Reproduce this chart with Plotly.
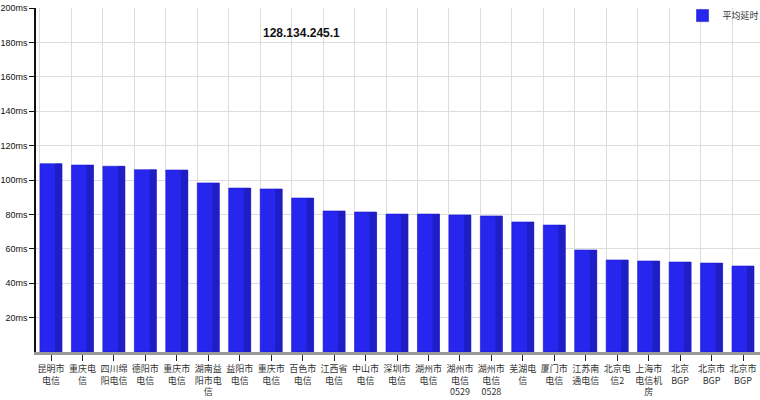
import plotly.graph_objects as go

categories = ["昆明市电信", "重庆电信", "四川绵阳电信", "德阳市电信", "重庆市电信",
              "湖南益阳市电信", "益阳市电信", "重庆市电信", "百色市电信", "江西省电信",
              "中山市电信", "深圳市电信", "湖州市电信", "湖州市电信0529", "湖州市电信0528",
              "芜湖电信", "厦门市电信", "江苏南通电信", "北京电信2", "上海市电信机房",
              "北京BGP", "北京市BGP", "北京市BGP"]
tick_labels = ["昆明市<br>电信", "重庆电<br>信", "四川绵<br>阳电信", "德阳市<br>电信", "重庆市<br>电信",
               "湖南益<br>阳市电<br>信", "益阳市<br>电信", "重庆市<br>电信", "百色市<br>电信", "江西省<br>电信",
               "中山市<br>电信", "深圳市<br>电信", "湖州市<br>电信", "湖州市<br>电信<br>0529", "湖州市<br>电信<br>0528",
               "芜湖电<br>信", "厦门市<br>电信", "江苏南<br>通电信", "北京电<br>信2", "上海市<br>电信机<br>房",
               "北京<br>BGP", "北京市<br>BGP", "北京市<br>BGP"]
avg_latency = [109.5, 108.7, 108.0, 106.0, 105.8, 98.3, 95.3, 94.8, 89.5, 82.0,
               81.4, 80.2, 80.2, 79.7, 79.1, 75.6, 73.8, 59.3, 53.5, 52.9,
               52.3, 51.7, 50.0]
y_ticks = [20, 40, 60, 80, 100, 120, 140, 160, 180, 200]
y_tick_labels = [f"{v}ms" for v in y_ticks]
title_text = "128.134.245.1"
series_name = "平均延时"

x_idx = list(range(len(categories)))

fig = go.Figure()
fig.add_trace(go.Bar(
    x=x_idx, y=avg_latency, name=series_name, width=0.7,
    marker=dict(color="#2626EE", line=dict(color="#1C1CD0", width=0.6)),
    hovertext=categories,
))
fig.add_trace(go.Bar(
    x=x_idx, y=avg_latency, width=0.22, offset=0.13, showlegend=False,
    marker=dict(color="#1E1EC4", line=dict(width=0)), hoverinfo="skip",
))

fig.add_annotation(
    text="<b>" + title_text + "</b>", x=0.367, y=0.927, xref="paper", yref="paper",
    showarrow=False, font=dict(family="Liberation Sans", size=12, color="#111111"),
    xanchor="center", yanchor="middle",
)

fig.update_layout(
    width=760, height=400,
    margin=dict(l=36, r=0, t=8, b=48, autoexpand=False),
    paper_bgcolor="white", plot_bgcolor="white",
    barmode="overlay",
    showlegend=True,
    legend=dict(x=0.893, y=1.02, xanchor="left", yanchor="top", itemwidth=30,
                bgcolor="rgba(0,0,0,0)", font=dict(family="Noto Sans CJK SC", size=9, color="#333")),
    font=dict(family="Liberation Sans", size=9, color="#222"),
)
fig.update_xaxes(
    range=[-0.477, 22.54], tickmode="array", tickvals=x_idx, ticktext=tick_labels,
    tickangle=0, ticks="outside", ticklen=6, tickcolor="#222", automargin=False,
    tickfont=dict(family="Noto Sans CJK SC", size=9, color="#333"),
    showgrid=False, showline=True, linecolor="#999999", linewidth=3,
    minor=dict(tick0=-0.35, dtick=1, showgrid=True, gridcolor="#DDDDDD", gridwidth=1, ticklen=0),
    zeroline=False, fixedrange=True,
)
fig.update_yaxes(
    range=[0, 200], tickmode="array", tickvals=y_ticks, ticktext=y_tick_labels,
    ticks="outside", ticklen=5, tickcolor="#111", showline=True, linecolor="#111", linewidth=1.5,
    showgrid=True, gridcolor="#DDDDDD", gridwidth=1, zeroline=False, automargin=False,
    tickfont=dict(family="Liberation Sans", size=9, color="#111"),
)

fig.write_html("out.html", config={"displayModeBar": False},
               post_script="document.body.style.margin='0';")
